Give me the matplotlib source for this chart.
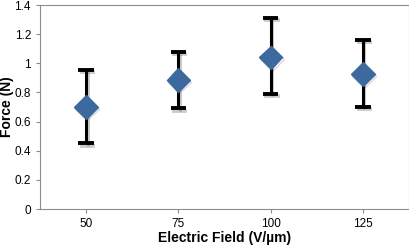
import matplotlib.pyplot as plt
import matplotlib.patheffects as pe

fields = ["50", "75", "100", "125"]
force = [0.70, 0.885, 1.04, 0.925]
err_low = [0.25, 0.195, 0.25, 0.225]
err_high = [0.255, 0.195, 0.27, 0.235]

plt.rcParams["font.family"] = ["Liberation Sans", "DejaVu Sans"]

fig = plt.figure(figsize=(4.1, 2.46), dpi=100)
ax = fig.add_axes([40 / 410, 37 / 246, 369 / 410, 204 / 246])

xs = range(len(fields))
shadow = [pe.SimpleLineShadow(offset=(1, -1.5), alpha=0.2), pe.Normal()]
eb = ax.errorbar(xs, force, yerr=[err_low, err_high], fmt="none",
                 ecolor="black", elinewidth=2.2, capsize=5.5, capthick=2.8, zorder=2)
for art in eb.lines[1] + eb.lines[2]:
    art.set_path_effects(shadow)
ax.plot(xs, force, linestyle="none", marker="D", markersize=12,
        color="#3C6A9E", markeredgecolor="#3C6A9E", zorder=3,
        path_effects=[pe.SimpleLineShadow(offset=(0.8, -1.2), alpha=0.15), pe.Normal()])

ax.set_xlim(-0.5, 3.5)
ax.set_ylim(0, 1.4)
ax.set_xticks(list(xs))
ax.set_xticklabels(fields)
ax.set_yticks([0, 0.2, 0.4, 0.6, 0.8, 1, 1.2, 1.4])
ax.set_yticklabels(["0", "0.2", "0.4", "0.6", "0.8", "1", "1.2", "1.4"])
for s in ax.spines.values():
    s.set_color("#8c8c8c")
ax.tick_params(colors="#8c8c8c", labelcolor="black", labelsize=8.5, length=3, width=0.8)
ax.set_xlabel("Electric Field (V/\u00b5m)", fontsize=10, fontweight="bold", labelpad=1)
ax.set_ylabel("Force (N)", fontsize=10, fontweight="bold", labelpad=0)

fig.savefig("out.png", dpi=100)
